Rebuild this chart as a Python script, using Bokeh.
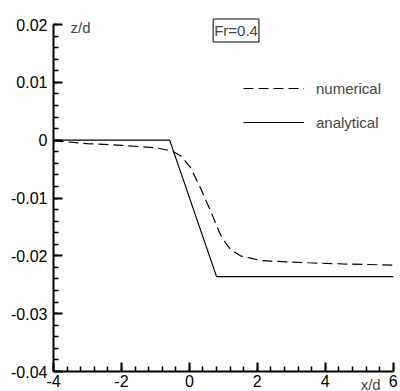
from bokeh.plotting import figure
from bokeh.models import (Label, Legend, LegendItem, SingleIntervalTicker,
                          CustomJSTickFormatter, Range1d)
from bokeh.embed import file_html
from bokeh.resources import INLINE

# --- data ---
analytical_x = [-4.0, -0.58, 0.80, 6.0]
analytical_y = [0.0, 0.0, -0.0236, -0.0236]

numerical_x = [-4.0, -3.0, -2.0, -1.0, -0.5, -0.26, -0.11, 0.03, 0.18, 0.32,
               0.47, 0.62, 0.77, 0.91, 1.06, 1.21, 1.50, 1.80, 2.09, 2.39,
               3.5, 4.5, 6.0]
numerical_y = [-0.0001, -0.0006, -0.0009, -0.0013, -0.0019, -0.0027, -0.0037,
               -0.0047, -0.0065, -0.0082, -0.0102, -0.0122, -0.0143, -0.0163,
               -0.0177, -0.0189, -0.0200, -0.0204, -0.0208, -0.0209,
               -0.0212, -0.0214, -0.0216]

x_range = (-4, 6)
y_range = (-0.04, 0.02)
series_labels = ["numerical", "analytical"]
title_text = "Fr=0.4"
x_label = "x/d"
y_label = "z/d"

FONT = "Liberation Sans"
W, H = 400, 391

# The frame covers the whole canvas; the axes sit at fixed positions inside it
# so that no text around them is clipped.
AX_LEFT, AX_RIGHT, AX_TOP, AX_BOTTOM = 53.0, 392.7, 24.0, 371.0
xs = (x_range[1] - x_range[0]) / (AX_RIGHT - AX_LEFT)
ys = (y_range[1] - y_range[0]) / (AX_BOTTOM - AX_TOP)
view_x = (x_range[0] - AX_LEFT * xs, x_range[1] + (W - AX_RIGHT) * xs)
view_y = (y_range[0] - (H - AX_BOTTOM) * ys, y_range[1] + AX_TOP * ys)

p = figure(width=W, height=H, output_backend="svg", toolbar_location=None,
           x_range=Range1d(*view_x), y_range=Range1d(*view_y),
           min_border_left=0, min_border_right=0, min_border_top=0,
           min_border_bottom=0)
p.outline_line_color = None
p.xgrid.visible = False
p.ygrid.visible = False
p.background_fill_color = "white"
p.border_fill_color = "white"

num = p.line(numerical_x, numerical_y, line_color="black", line_width=1.2,
             line_dash="10 5")
ana = p.line(analytical_x, analytical_y, line_color="black", line_width=1.2)

p.xaxis.ticker = SingleIntervalTicker(interval=2, num_minor_ticks=5)
p.yaxis.ticker = SingleIntervalTicker(interval=0.01, num_minor_ticks=5)
p.xaxis.bounds = x_range
p.yaxis.bounds = y_range
p.xaxis.fixed_location = y_range[0]
p.yaxis.fixed_location = x_range[0]
p.xaxis.formatter = CustomJSTickFormatter(code="""
    return String(Math.round(tick));
""")
p.yaxis.formatter = CustomJSTickFormatter(code="""
    if (Math.abs(tick) < 1e-9) return "0";
    return tick.toFixed(2);
""")

for ax in (p.xaxis, p.yaxis):
    ax.axis_line_width = 2
    ax.axis_line_color = "black"
    ax.major_tick_in = 9
    ax.major_tick_out = 0
    ax.minor_tick_in = 5
    ax.minor_tick_out = 0
    ax.major_tick_line_width = 2
    ax.minor_tick_line_width = 1.5
    ax.major_label_text_font = FONT
    ax.major_label_text_font_size = "16px"
    ax.major_label_text_color = "black"
p.xaxis.major_label_standoff = 3
p.yaxis.major_label_standoff = 6

p.add_layout(Label(x=x_range[1], y=y_range[0], x_offset=-12.5, y_offset=-13,
                   text=x_label, text_font=FONT, text_font_size="15px",
                   text_baseline="alphabetic", text_align="right"))
p.add_layout(Label(x=x_range[0], y=y_range[1], x_offset=17, y_offset=-3,
                   text=y_label, text_font=FONT, text_font_size="15px",
                   text_baseline="middle", text_align="left"))
p.add_layout(Label(x=0.70, y=y_range[1], y_offset=-6, text=title_text,
                   text_font=FONT, text_font_size="15px",
                   text_baseline="middle", text_align="left",
                   border_line_color="black", border_line_width=1,
                   background_fill_color="white", padding=(1, 3)))

legend = Legend(items=[LegendItem(label=series_labels[0], renderers=[num]),
                       LegendItem(label=series_labels[1], renderers=[ana])],
                location=(243, 259), orientation="vertical",
                glyph_width=61, glyph_height=20, label_height=20,
                label_standoff=12, spacing=14, padding=0, margin=0,
                border_line_color=None, background_fill_alpha=0,
                label_text_font=FONT, label_text_font_size="15px")
p.add_layout(legend)

open("out.html", "w").write(file_html(p, INLINE))
